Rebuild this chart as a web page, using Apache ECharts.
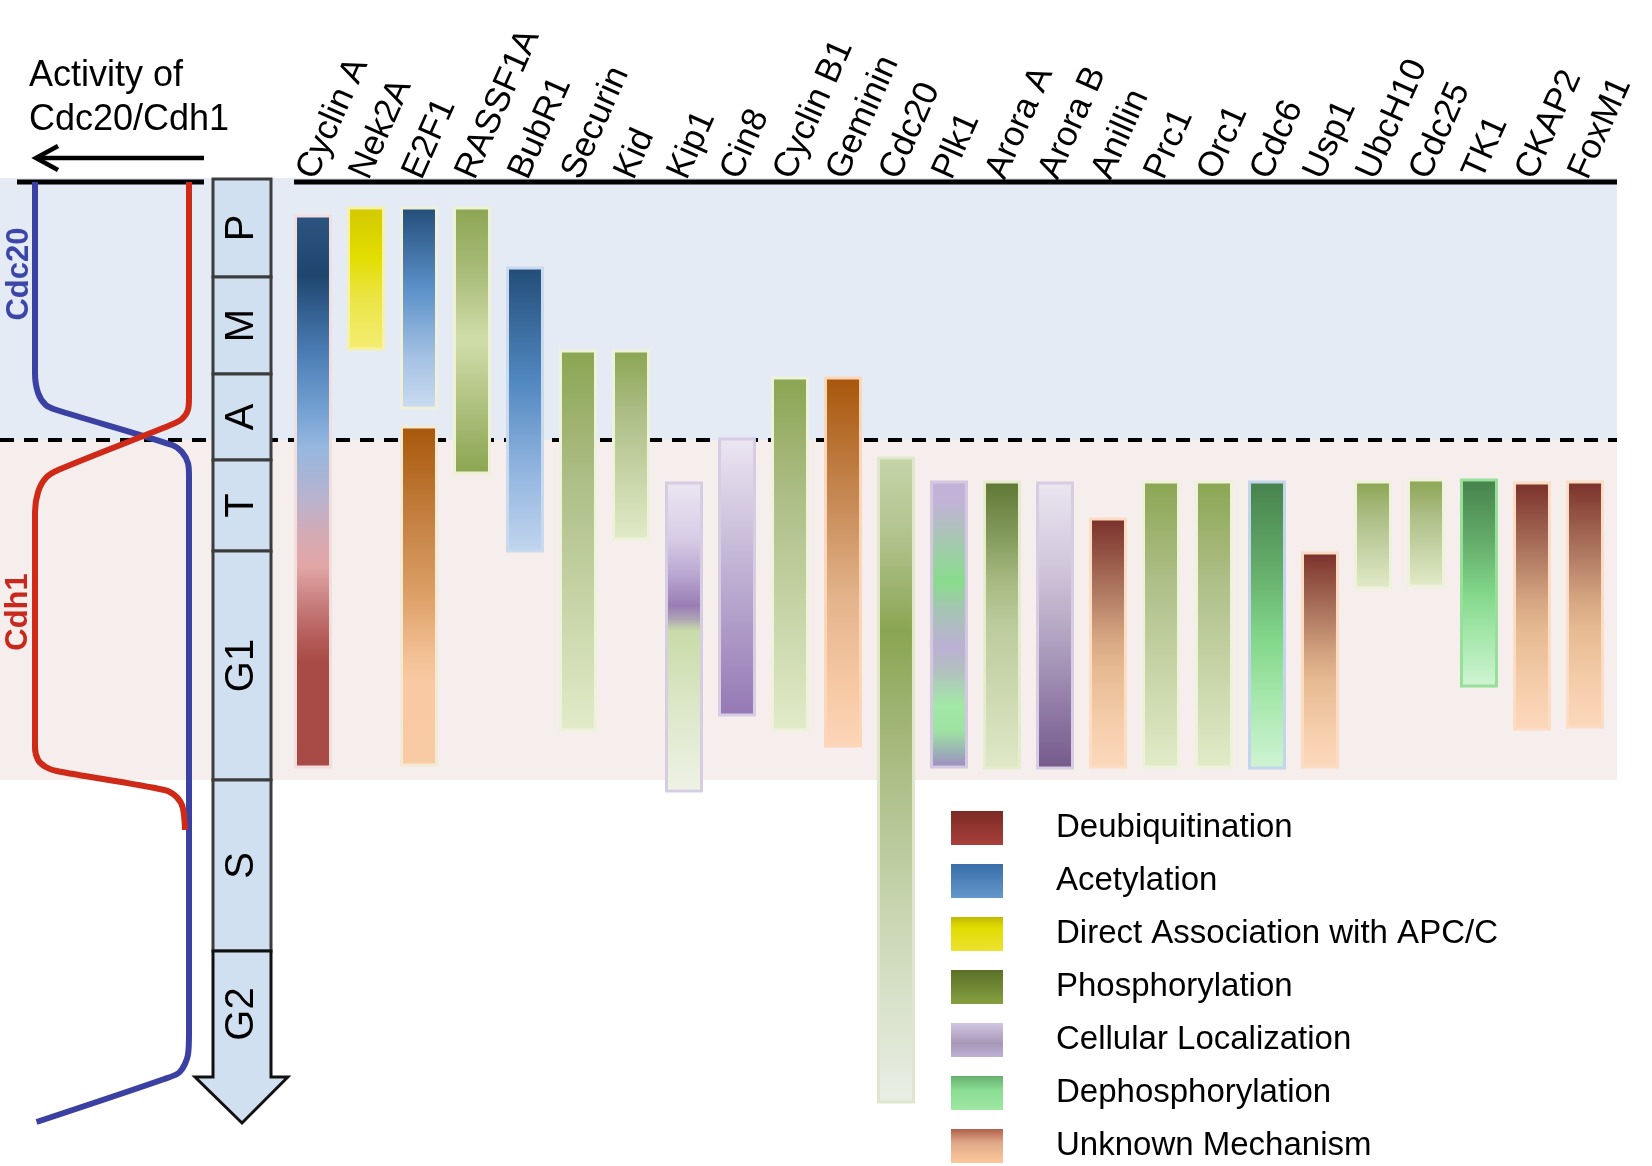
<!DOCTYPE html>
<html><head><meta charset="utf-8">
<script src="https://cdn.jsdelivr.net/npm/echarts@6/dist/echarts.min.js"></script>
<style>html,body{margin:0;padding:0;background:#fff}#c{width:1652px;height:1166px}</style>
</head><body><div id="c"></div>
<script>
// ---------------- DATA ----------------
const genes = ['Cyclin A','Nek2A','E2F1','RASSF1A','BubR1','Securin','Kid','Kip1','Cin8','Cyclin B1','Geminin','Cdc20','Plk1','Arora A','Arora B','Anillin','Prc1','Orc1','Cdc6','Usp1','UbcH10','Cdc25','TK1','CKAP2','FoxM1'];
const mechanisms = ['Deubiquitination','Acetylation','Direct Association with APC/C','Phosphorylation','Cellular Localization','Dephosphorylation','Unknown Mechanism'];
// degradation windows, in cell-cycle time units (0 = start of prophase, increasing downward)
const barGene  = ['Cyclin A','Nek2A','E2F1','E2F1','RASSF1A','BubR1','Securin','Kid','Kip1','Cin8','Cyclin B1','Geminin','Cdc20','Plk1','Arora A','Arora B','Anillin','Prc1','Orc1','Cdc6','Usp1','UbcH10','Cdc25','TK1','CKAP2','FoxM1'];
const barStart = [34,26,26,245,26,86,169,169,301,257,196,196,276,300,300,301,337,300,300,300,371,300,298,298,301,300];
const barEnd   = [585,167,226,583,291,369,548,357,609,533,548,564,920,585,586,586,585,585,585,586,585,406,404,504,547,545];
const barMech  = ['Acetylation','Direct Association with APC/C','Acetylation','Unknown Mechanism','Phosphorylation','Acetylation','Phosphorylation','Phosphorylation','Cellular Localization','Cellular Localization','Phosphorylation','Unknown Mechanism','Phosphorylation','Dephosphorylation','Phosphorylation','Cellular Localization','Unknown Mechanism','Phosphorylation','Phosphorylation','Dephosphorylation','Unknown Mechanism','Phosphorylation','Phosphorylation','Dephosphorylation','Unknown Mechanism','Unknown Mechanism'];
// cell-cycle phases
const phaseNames = ['P','M','A','T','G1','S','G2'];
const phaseStart = [-3,95,192,278,369,598,769];
const phaseEnd   = [95,192,278,369,598,769,895];
const g2Tip = 941;
const switchTime = 258;   // Cdc20 -> Cdh1 hand-over (dashed line)
const cdh1BandEnd = 598;  // end of Cdh1 shaded band
// APC/C activity curves: [activity (0..1), time]
const cdc20Curve = [[1,0],[1,191],[0.98,211],[0.93,223],[0.86,228],[0.11,263],[0.046,270],[0.007,281],[0,294],[0,851],[0.007,873],[0.06,890],[0.16,897],[0.99,940]];
const cdh1Curve  = [[0,0],[0,215],[0.007,228],[0.046,237],[0.12,243],[0.85,288],[0.93,296],[0.98,310],[1,330],[1,565],[0.98,578],[0.93,585],[0.86,589],[0.16,608],[0.08,615],[0.04,626],[0.026,648]];

// ---------------- STYLE ----------------
const FONT = '"Liberation Sans", Arial, Helvetica, sans-serif';
const grad = stops => ({type:'linear',x:0,y:0,x2:0,y2:1,global:false,colorStops:stops.map(s=>({offset:s[0],color:s[1]}))});
const LOOKS = {
  cyclinA:{border:'#f3dede',stops:[[0,'#2c5480'],[0.11,'#1f466f'],[0.25,'#4b7db5'],[0.36,'#77a3d4'],[0.42,'#96b7df'],[0.51,'#b7b3cf'],[0.58,'#d5aab3'],[0.635,'#e2a6a6'],[0.69,'#cc8584'],[0.77,'#b35956'],[0.81,'#a84a45'],[1,'#a84a45']]},
  yellow:{border:'#f6f1a8',stops:[[0,'#d2c900'],[0.35,'#e2dd00'],[0.65,'#ebe548'],[1,'#f4ed72']]},
  blueAcet:{border:'#eef0dc',stops:[[0,'#234d78'],[0.4,'#5a90c8'],[0.75,'#a6c3e4'],[1,'#cadcf0']]},
  bubR1:{border:'#c9d9ee',stops:[[0,'#224c77'],[0.4,'#5088c0'],[0.7,'#8fb3de'],[1,'#c2d6ee']]},
  orange:{border:'#f3ead4',stops:[[0,'#a8570a'],[0.3,'#c78446'],[0.5,'#dda067'],[0.68,'#f3c196'],[0.75,'#f8c9a2'],[1,'#f9cba4']]},
  geminin:{border:'#fbd6b8',stops:[[0,'#a8560a'],[0.35,'#c88c58'],[0.6,'#e4b48c'],[0.85,'#f7caa6'],[1,'#fcd6b8']]},
  greenMid:{border:'#eef1d2',stops:[[0,'#8ba552'],[0.25,'#aabd7a'],[0.5,'#d0ddaa'],[0.75,'#aec07e'],[1,'#89a450']]},
  green:{border:'#eef2da',stops:[[0,'#8aa552'],[0.35,'#aebf88'],[1,'#e2ebc9']]},
  kip1:{border:'#d7cde3',stops:[[0,'#ece6f2'],[0.18,'#d8cde6'],[0.3,'#b9a6d1'],[0.4,'#9a7db4'],[0.44,'#aba2b4'],[0.48,'#c8dba8'],[0.7,'#dbe6c5'],[1,'#eef2e6']]},
  cin8:{border:'#d7cde3',stops:[[0,'#ece6f2'],[0.45,'#c2b4d5'],[1,'#9478b4']]},
  cdc20:{border:'#dfe8cc',stops:[[0,'#c6d4a8'],[0.12,'#b2c48e'],[0.27,'#8aa552'],[0.45,'#a6ba7e'],[0.7,'#c8d5b0'],[1,'#eaefe6']]},
  plk1:{border:'#d4c8e0',stops:[[0,'#c2b2d8'],[0.08,'#c0b4d6'],[0.2,'#a8c6b4'],[0.35,'#88dc8c'],[0.45,'#a6c4b4'],[0.58,'#bcb0d4'],[0.66,'#b2c0c0'],[0.78,'#a2e8a6'],[0.87,'#9ee2a2'],[0.94,'#9ab4b4'],[1,'#a08ac4']]},
  aroraA:{border:'#e5ecce',stops:[[0,'#607634'],[0.2,'#849c5e'],[0.35,'#a8ba82'],[0.5,'#bccb9c'],[1,'#e0e8c8']]},
  aroraB:{border:'#d7cde3',stops:[[0,'#ebe6f0'],[0.3,'#d0c6da'],[0.55,'#b0a2c0'],[0.8,'#8e78a4'],[1,'#755a8c']]},
  brown:{border:'#fcdcc2',stops:[[0,'#7a302a'],[0.3,'#b07a62'],[0.48,'#d6a682'],[0.6,'#e6ba92'],[0.8,'#f4cca9'],[1,'#fcd8bc']]},
  dephos:{border:'#c3d5ea',stops:[[0,'#46824c'],[0.3,'#64ac6a'],[0.55,'#82d78a'],[0.75,'#a5e7ab'],[1,'#d0f4d4']]},
  tk1:{border:'#96e09a',stops:[[0,'#46824c'],[0.3,'#64ac6a'],[0.55,'#82d78a'],[0.75,'#a5e7ab'],[1,'#d0f4d4']]}
};
const MECH_LOOK = {'Deubiquitination':'brown','Acetylation':'blueAcet','Direct Association with APC/C':'yellow','Phosphorylation':'green','Cellular Localization':'cin8','Dephosphorylation':'dephos','Unknown Mechanism':'brown'};
const GENE_LOOK = {'Cyclin A':'cyclinA','RASSF1A':'greenMid','BubR1':'bubR1','Kip1':'kip1','Geminin':'geminin','Cdc20':'cdc20','Plk1':'plk1','Arora A':'aroraA','Arora B':'aroraB','TK1':'tk1'};
function lookFor(i){
  const g = barGene[i], m = barMech[i];
  if (g === 'E2F1' && m === 'Unknown Mechanism') return LOOKS.orange;
  if (GENE_LOOK[g]) return LOOKS[GENE_LOOK[g]];
  return LOOKS[MECH_LOOK[m]];
}
const LEGEND_FILL = {
  'Deubiquitination':[[0,'#7c2a24'],[1,'#a8403c']],
  'Acetylation':[[0,'#3a6ea8'],[1,'#6498cc']],
  'Direct Association with APC/C':[[0,'#c0b800'],[0.3,'#e0dc00'],[1,'#ece230']],
  'Phosphorylation':[[0,'#5a7028'],[1,'#86a040']],
  'Cellular Localization':[[0,'#d0c6e0'],[0.6,'#a898b8'],[1,'#bcb0d4']],
  'Dephosphorylation':[[0,'#66b070'],[0.4,'#88dc90'],[1,'#a0e8a4']],
  'Unknown Mechanism':[[0,'#b0604c'],[0.4,'#e0a888'],[1,'#fcc89a']]
};
const Y_MAX = 984;

function renderBar(params, api){
  const i = api.value(3);
  const p0 = api.coord([api.value(0), api.value(1)]);
  const p1 = api.coord([api.value(0), api.value(2)]);
  const w = api.size([1,0])[0] * 0.66;
  const look = lookFor(i);
  return {type:'rect', shape:{x:p0[0]-w/2, y:p0[1], width:w, height:p1[1]-p0[1]},
    style:{fill:grad(look.stops), stroke:look.border, lineWidth:3}};
}
function renderPhase(params, api){
  const i = api.value(3);
  const a = api.coord([0, api.value(1)]);
  const b = api.coord([1, api.value(2)]);
  const xc = (a[0]+b[0])/2, yc = (a[1]+b[1])/2;
  const last = i === phaseNames.length - 1;
  let shape;
  if (last) {
    const tip = api.coord([0.5, g2Tip]);
    const l = api.coord([-0.31, api.value(2)]), r = api.coord([1.29, api.value(2)]);
    shape = {type:'polygon', shape:{points:[[a[0],a[1]],[b[0],a[1]],[b[0],b[1]],[r[0],b[1]],[tip[0],tip[1]],[l[0],b[1]],[a[0],b[1]]]},
      style:{fill:'#d0e0f0', stroke:'#111', lineWidth:3}};
  } else {
    shape = {type:'rect', shape:{x:a[0], y:a[1], width:b[0]-a[0], height:b[1]-a[1]},
      style:{fill:'#d0e0f0', stroke:'#3c3c3c', lineWidth:3}};
  }
  return {type:'group', children:[shape,
    {type:'text', x:xc, y:yc, rotation:Math.PI/2,
     style:{text:phaseNames[i], font:'40px ' + FONT, fill:'#000', align:'center', verticalAlign:'middle', textAlign:'center', textVerticalAlign:'middle'}}]};
}

const legendSeries = mechanisms.map(m => ({
  name:m, type:'bar', xAxisIndex:0, yAxisIndex:0, data:[],
  itemStyle:{color:grad(LEGEND_FILL[m])}
}));

const option = {
  animation:false,
  backgroundColor:'#fff',
  grid:[
    {left:286.5, right:40.5, top:182, bottom:0},
    {left:35, width:154, top:182, bottom:0},
    {left:213, width:58, top:182, bottom:0}
  ],
  xAxis:[
    {gridIndex:0, type:'category', position:'top', data:genes, boundaryGap:true,
     axisLine:{show:false}, axisTick:{show:false}, splitLine:{show:false},
     axisLabel:{interval:0, rotate:66, margin:2, verticalAlign:'bottom', lineHeight:14, fontSize:35, color:'#000', fontFamily:FONT}},
    {gridIndex:1, type:'value', min:0, max:1, inverse:true, show:false},
    {gridIndex:2, type:'value', min:0, max:1, show:false}
  ],
  yAxis:[
    {gridIndex:0, type:'value', min:0, max:Y_MAX, inverse:true, show:false},
    {gridIndex:1, type:'value', min:0, max:Y_MAX, inverse:true, show:false},
    {gridIndex:2, type:'value', min:0, max:Y_MAX, inverse:true, show:false}
  ],
  legend:{
    data:mechanisms, orient:'vertical', left:951, top:811, padding:0,
    itemWidth:52, itemHeight:34, itemGap:19, icon:'rect', selectedMode:false,
    textStyle:{fontSize:33, color:'#000', fontFamily:FONT, padding:[0,0,0,48]}
  },
  series:[
    {name:'bars', type:'custom', xAxisIndex:0, yAxisIndex:0, renderItem:renderBar,
     encode:{x:0, y:[1,2]},
     data:barGene.map((g,i)=>[genes.indexOf(g), barStart[i], barEnd[i], i])},
    {name:'phases', type:'custom', xAxisIndex:2, yAxisIndex:2, renderItem:renderPhase,
     encode:{x:0, y:[1,2]}, clip:false,
     data:phaseNames.map((n,i)=>[0.5, phaseStart[i], phaseEnd[i], i])},
    {name:'Cdc20 activity', type:'line', xAxisIndex:1, yAxisIndex:1, data:cdc20Curve,
     showSymbol:false, smooth:0.3, lineStyle:{color:'#3b41a2', width:6}, z:3},
    {name:'Cdh1 activity', type:'line', xAxisIndex:1, yAxisIndex:1, data:cdh1Curve,
     showSymbol:false, smooth:0.3, lineStyle:{color:'#cf2a18', width:6}, z:3}
  ].concat(legendSeries)
};

const chart = echarts.init(document.getElementById('c'));
chart.setOption(option);

const yPix = v => chart.convertToPixel({yAxisIndex:0}, v);
const gridRightPx = chart.convertToPixel({xAxisIndex:0}, genes.length - 1) + 32;
const gridLeftPx = chart.convertToPixel({xAxisIndex:0}, 0) - 19;
const yTop = yPix(0), ySwitch = yPix(switchTime), yBandEnd = yPix(cdh1BandEnd);
const txt = (x,y,text,font,fill,rot) => ({type:'text', x, y, rotation:rot||0, z:5,
  style:{text, font, fill, align:rot?'center':'left', verticalAlign:rot?'middle':'top',
         textAlign:rot?'center':'left', textVerticalAlign:rot?'middle':'top', lineHeight:44}});
chart.setOption({graphic:{elements:[
  {type:'rect', z:-2, shape:{x:0, y:yTop-4, width:gridRightPx, height:ySwitch-yTop+4}, style:{fill:'#e4ebf4'}},
  {type:'rect', z:-2, shape:{x:0, y:ySwitch, width:gridRightPx, height:yBandEnd-ySwitch}, style:{fill:'#f6eded'}},
  {type:'line', z:1, shape:{x1:0, y1:ySwitch, x2:gridRightPx, y2:ySwitch}, style:{stroke:'#000', lineWidth:4, lineDash:[14,10]}},
  {type:'line', z:1, shape:{x1:17, y1:yTop, x2:204, y2:yTop}, style:{stroke:'#000', lineWidth:5}},
  {type:'line', z:1, shape:{x1:gridLeftPx, y1:yTop, x2:gridRightPx, y2:yTop}, style:{stroke:'#000', lineWidth:5}},
  {type:'line', z:1, shape:{x1:37, y1:158, x2:204, y2:158}, style:{stroke:'#000', lineWidth:4.5}},
  {type:'polyline', z:1, shape:{points:[[58,146],[36,158],[58,170]]}, style:{stroke:'#000', lineWidth:4.5, fill:null}},
  txt(29, 54, 'Activity of\nCdc20/Cdh1', '36px ' + FONT, '#000'),
  txt(19, 274, 'Cdc20', 'bold 31px ' + FONT, '#3b46a8', Math.PI/2),
  txt(18, 612, 'Cdh1', 'bold 31px ' + FONT, '#c9291d', Math.PI/2)
]}});
</script>
</body></html>
